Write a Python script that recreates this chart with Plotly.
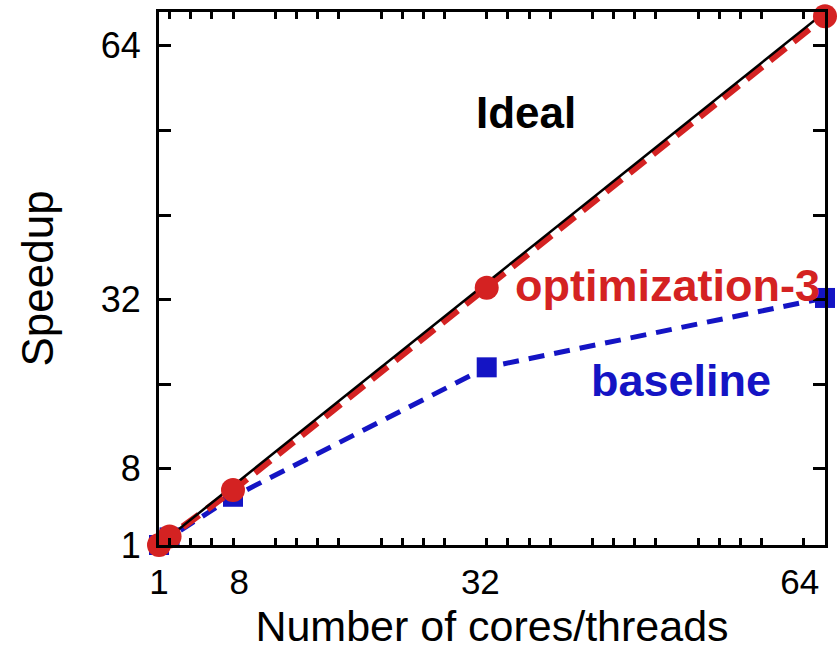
import plotly.graph_objects as go

# ---- data ----
cores = [1, 2, 8, 32, 64]
ideal = [1, 2, 8, 32, 64]
optimization3 = [1, 2, 7.5, 31.4, 63.5]
baseline = [1, 1.9, 6.7, 22.0, 30.2]

x_tick_pos = [1, 8.6, 31.4, 61.6]
x_tick_text = ["1", "8", "32", "64"]
x_minor_ticks = [v for v in range(2, 64, 2) if v % 10 != 0]
y_tick_pos = [1, 10, 20, 30, 40, 50, 60]
y_tick_text = ["1", "8", "", "32", "", "", "64"]

RED = "#d42222"
BLUE = "#1414c4"
FONT = "Liberation Sans, Arial, Helvetica, sans-serif"

fig = go.Figure()

fig.add_trace(go.Scatter(
    x=cores, y=baseline, mode="lines+markers", name="baseline",
    line=dict(color=BLUE, width=5, dash="16px,10px"),
    marker=dict(symbol="square", size=20, color=BLUE),
    cliponaxis=False,
))
fig.add_trace(go.Scatter(
    x=cores, y=optimization3, mode="lines", name="optimization-3",
    line=dict(color=RED, width=7, dash="20px,10px"),
    cliponaxis=False,
))
fig.add_trace(go.Scatter(
    x=cores, y=ideal, mode="lines", name="Ideal",
    line=dict(color="black", width=2.5),
    cliponaxis=False,
))
fig.add_trace(go.Scatter(
    x=cores, y=optimization3, mode="markers", name="optimization-3 points",
    marker=dict(symbol="circle", size=24, color=RED),
    cliponaxis=False,
))

fig.add_annotation(x=35.7, y=52.1, text="<b>Ideal</b>", showarrow=False,
                   font=dict(family=FONT, size=44, color="black"))
fig.add_annotation(x=49.1, y=31.7, text="<b>optimization-3</b>", showarrow=False,
                   font=dict(family=FONT, size=45, color=RED))
fig.add_annotation(x=50.4, y=20.4, text="<b>baseline</b>", showarrow=False,
                   font=dict(family=FONT, size=45, color=BLUE))

fig.update_layout(
    width=840, height=650, autosize=False,
    margin=dict(l=159, r=15, t=12, b=105),
    paper_bgcolor="white", plot_bgcolor="white",
    showlegend=False,
    font=dict(family=FONT, color="black"),
)
fig.update_xaxes(
    range=[1, 64], showgrid=False, zeroline=False, automargin=False,
    showline=True, linewidth=3, linecolor="black", mirror="ticks",
    tickmode="array", tickvals=x_tick_pos, ticktext=x_tick_text,
    ticks="inside", ticklen=0, tickwidth=0,
    ticklabelstandoff=4,
    tickfont=dict(size=35, family=FONT, color="black"),
    minor=dict(tickmode="array", tickvals=x_minor_ticks, ticks="inside",
               ticklen=7, tickwidth=2.5, tickcolor="black", showgrid=False),
    title=dict(text="Number of cores/threads", standoff=12,
               font=dict(size=43, family=FONT, color="black")),
)
fig.update_yaxes(
    range=[1, 64], showgrid=False, zeroline=False, automargin=False,
    showline=True, linewidth=3, linecolor="black", mirror="ticks",
    tickmode="array", tickvals=y_tick_pos, ticktext=y_tick_text,
    ticks="inside", ticklen=12, tickwidth=3, tickcolor="black",
    ticklabelstandoff=8,
    tickfont=dict(size=36, family=FONT, color="black"),
    title=dict(text="Speedup", standoff=34,
               font=dict(size=44, family=FONT, color="black")),
)

fig.write_html("out.html")
